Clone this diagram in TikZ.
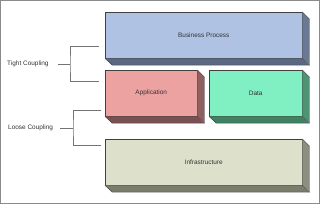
\documentclass[tikz,border=0pt]{standalone}
\usepackage{fontspec}
\setmainfont{Liberation Sans}
\usetikzlibrary{positioning}
\definecolor{bpfront}{HTML}{AFC2E3}
\definecolor{bpside}{HTML}{6B7A94}
\definecolor{bpbottom}{HTML}{5C6882}
\definecolor{appfront}{HTML}{EDA2A2}
\definecolor{appside}{HTML}{8E6060}
\definecolor{appbottom}{HTML}{7A5050}
\definecolor{datafront}{HTML}{80F0C2}
\definecolor{dataside}{HTML}{4E9474}
\definecolor{databottom}{HTML}{3F8262}
\definecolor{infrafront}{HTML}{DDE0CB}
\definecolor{infraside}{HTML}{8C8E80}
\definecolor{infrabottom}{HTML}{7A7C6E}
\definecolor{framegray}{HTML}{8A8A8A}

\begin{document}
\begin{tikzpicture}[x=0.03cm, y=-0.03cm,
			every node/.style={font=\fontsize{5.5}{6.5}\selectfont, text=black!80},
			slab/.style={draw=black!75, line width=0.4pt, inner sep=0pt, minimum height=1.38cm, anchor=north west},
			edge/.style={draw=black!75, line width=0.3pt},
			brace/.style={draw=black!55, line width=0.5pt}]
	\useasboundingbox (0,0) rectangle (320,204);
	\draw[framegray, line width=0.9pt] (0.5,0.5) rectangle (319.5,203.5);

	% business process
	\node (bp) [slab, fill=bpfront, minimum width=5.91cm] at (105,12) {Business Process};
	\fill[bpside] (bp.north east) -- ++(7,7) -- ++(0,46) -- (bp.south east) -- cycle;
	\fill[bpbottom] (bp.south west) -- ++(7,7) -- ++(197,0) -- (bp.south east) -- cycle;
	\draw[edge] (bp.north east) -- ++(7,7) -- ++(0,46) -- ++(-197,0) -- (bp.south west);
	\draw[edge] (bp.south east) -- ++(7,7);

	% application
	\node (app) [slab, fill=appfront, minimum width=2.76cm] at (105,70) {Application};
	\fill[appside] (app.north east) -- ++(7,7) -- ++(0,46) -- (app.south east) -- cycle;
	\fill[appbottom] (app.south west) -- ++(7,7) -- ++(92,0) -- (app.south east) -- cycle;
	\draw[edge] (app.north east) -- ++(7,7) -- ++(0,46) -- ++(-92,0) -- (app.south west);
	\draw[edge] (app.south east) -- ++(7,7);

	% data
	\node (data) [slab, fill=datafront, minimum width=2.79cm] at (209,70) {Data};
	\fill[dataside] (data.north east) -- ++(7,7) -- ++(0,46) -- (data.south east) -- cycle;
	\fill[databottom] (data.south west) -- ++(7,7) -- ++(93,0) -- (data.south east) -- cycle;
	\draw[edge] (data.north east) -- ++(7,7) -- ++(0,46) -- ++(-93,0) -- (data.south west);
	\draw[edge] (data.south east) -- ++(7,7);

	% infrastructure
	\node (infra) [slab, fill=infrafront, minimum width=5.91cm] at (105,139) {Infrastructure};
	\fill[infraside] (infra.north east) -- ++(7,7) -- ++(0,46) -- (infra.south east) -- cycle;
	\fill[infrabottom] (infra.south west) -- ++(7,7) -- ++(197,0) -- (infra.south east) -- cycle;
	\draw[edge] (infra.north east) -- ++(7,7) -- ++(0,46) -- ++(-197,0) -- (infra.south west);
	\draw[edge] (infra.south east) -- ++(7,7);

	% couplings
	\node (tight) [anchor=west, inner sep=0pt] at (7,64) {Tight Coupling};
	\node (loose) [anchor=west, inner sep=0pt] at (8,128) {Loose Coupling};
	\coordinate (tj) at (70,64);
	\coordinate (t1) at (99,46);
	\coordinate (t2) at (99,81);
	\coordinate (lj) at (73,128);
	\coordinate (l1) at (101,110);
	\coordinate (l2) at (101,145);
	\draw[brace, shorten <=7.5pt] (tight.east) -- (tj);
	\draw[brace] (t1) -| (tj) |- (t2);
	\draw[brace, shorten <=6pt] (loose.east) -- (lj);
	\draw[brace] (l1) -| (lj) |- (l2);
\end{tikzpicture}
\end{document}
